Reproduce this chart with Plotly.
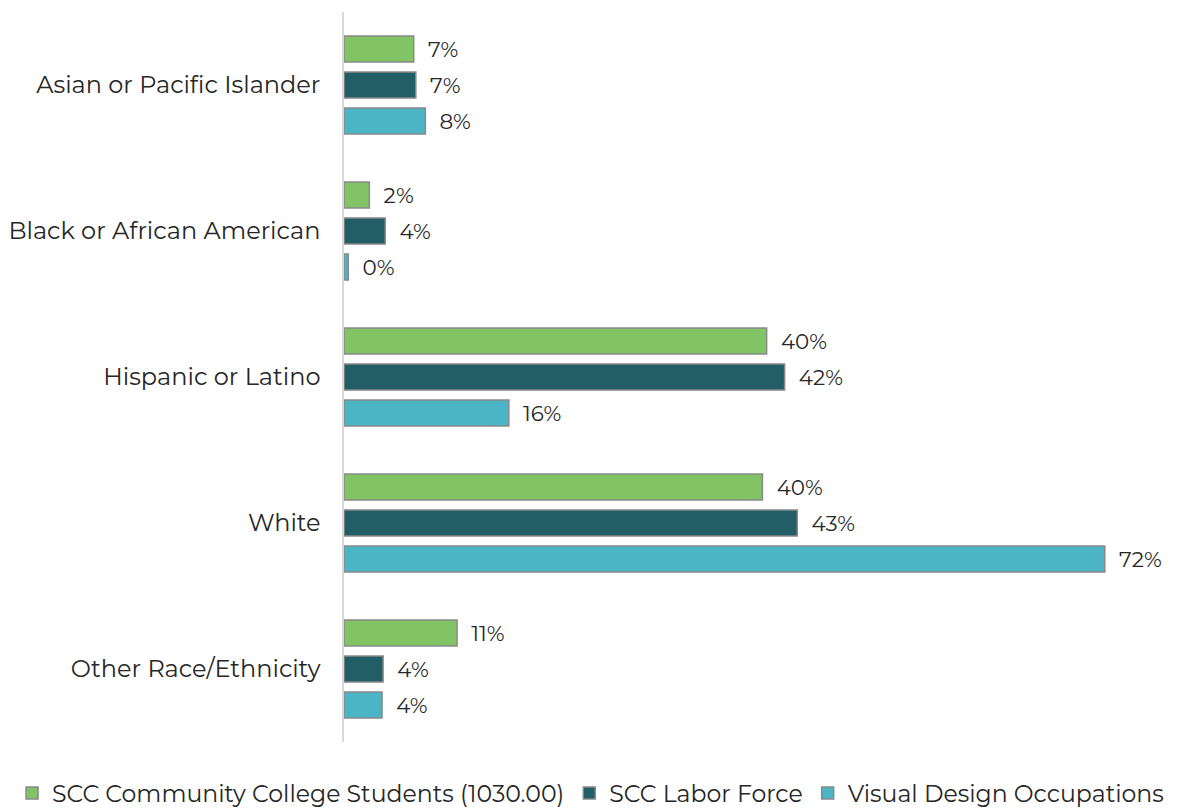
import plotly.graph_objects as go

categories = ["Asian or Pacific Islander", "Black or African American", "Hispanic or Latino", "White", "Other Race/Ethnicity"]
students = [6.6, 2.4, 40.0, 39.6, 10.7]
labor_force = [6.8, 3.9, 41.7, 42.9, 3.7]
visual_design = [7.7, 0.4, 15.6, 72.0, 3.6]

series_names = ["SCC Community College Students (1030.00)", "SCC Labor Force", "Visual Design Occupations"]
colors = ["#82C465", "#215E66", "#4BB5C6"]

fig = go.Figure()
for name, vals, col in zip(series_names, [students, labor_force, visual_design], colors):
    fig.add_trace(go.Bar(
        y=categories, x=vals, name=name, orientation="h",
        marker=dict(color=col, line=dict(color="#898989", width=1.5)),
        texttemplate="\u00a0\u00a0%{x:.0f}%", textposition="outside",
        textfont=dict(size=24, color="#262626"), cliponaxis=False,
    ))

fig.update_layout(
    width=1185, height=808,
    barmode="group", bargap=0.26, bargroupgap=0.28,
    plot_bgcolor="white", paper_bgcolor="white",
    font=dict(family="Montserrat, Noto Sans, sans-serif", size=24, color="#262626"),
    margin=dict(l=336, r=0, t=4, b=74, autoexpand=False),
    xaxis=dict(range=[0, 80.35], visible=False, showgrid=False, zeroline=False),
    yaxis=dict(autorange="reversed", showline=True, linecolor="#D9D9D9", linewidth=1.5,
               ticks="", showgrid=False, ticklabelstandoff=17, tickfont=dict(size=24)),
    legend=dict(orientation="h", x=-0.391, xanchor="left",
                y=-0.040, yanchor="top", font=dict(size=23.6),
                itemwidth=30, tracegroupgap=0),
    showlegend=True,
)

fig.write_html("out.html")
